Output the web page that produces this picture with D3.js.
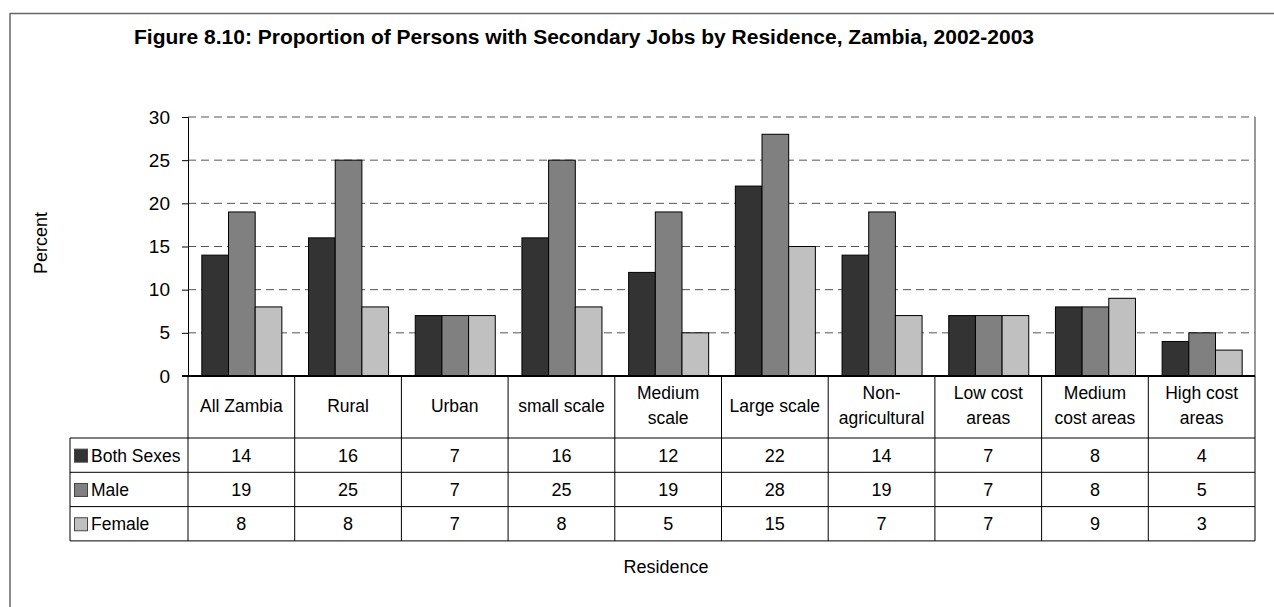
<!DOCTYPE html>
<html>
<head>
<meta charset="utf-8">
<title>Figure 8.10</title>
<style>
body { margin: 0; background: #fff; }
text { font-family: "Liberation Sans", Arial, sans-serif; fill: #000; }
.grid line { stroke: #555; stroke-dasharray: 8,5; }
.tbl line { stroke: #000; stroke-width: 1; }
</style>
</head>
<body>
<script src="https://cdn.jsdelivr.net/npm/d3@7"></script>
<script>
// data
var categories = ["All Zambia", "Rural", "Urban", "small scale", "Medium|scale",
                  "Large scale", "Non-|agricultural", "Low cost|areas",
                  "Medium|cost areas", "High cost|areas"];
var seriesNames = ["Both Sexes", "Male", "Female"];
var bothSexes = [14, 16, 7, 16, 12, 22, 14, 7, 8, 4];
var male      = [19, 25, 7, 25, 19, 28, 19, 7, 8, 5];
var female    = [8, 8, 7, 8, 5, 15, 7, 7, 9, 3];
var yTicks = [0, 5, 10, 15, 20, 25, 30];

var colors = ["#333333", "#808080", "#c0c0c0"];
var series = [bothSexes, male, female];

var width = 1274, height = 607;
var plotLeft = 188, plotRight = 1255, plotTop = 117, plotBottom = 376;
var legendLeft = 70, headerH = 62, rowH = 34.3;

var svg = d3.select("body").append("svg")
    .attr("width", width)
    .attr("height", height);

// outer frame (only top and left show)
svg.append("line").attr("x1", 10).attr("x2", width).attr("y1", 13.5).attr("y2", 13.5)
    .attr("stroke", "#666").attr("stroke-width", 1.5);
svg.append("line").attr("x1", 10).attr("x2", 10).attr("y1", 13).attr("y2", height)
    .attr("stroke", "#666").attr("stroke-width", 1.5);

svg.append("text")
    .attr("x", 584).attr("y", 44)
    .attr("text-anchor", "middle")
    .attr("textLength", 900).attr("lengthAdjust", "spacingAndGlyphs")
    .style("font-weight", "bold").style("font-size", "21px")
    .text("Figure 8.10: Proportion of Persons with Secondary Jobs by Residence, Zambia, 2002-2003");

var x = d3.scaleBand().domain(d3.range(categories.length))
    .range([plotLeft, plotRight]).paddingInner(0.25).paddingOuter(0.125);
var xCol = d3.scaleBand().domain(d3.range(categories.length)).range([plotLeft, plotRight]);
var xs = d3.scaleBand().domain(d3.range(series.length)).range([0, x.bandwidth()]);
var y = d3.scaleLinear().domain([0, 30]).range([plotBottom, plotTop]);

// gridlines
svg.append("g").attr("class", "grid")
  .selectAll("line").data(yTicks.filter(function(t) { return t > 0; }))
  .enter().append("line")
    .attr("x1", plotLeft).attr("x2", plotRight)
    .attr("y1", function(d) { return y(d); }).attr("y2", function(d) { return y(d); });

// right side of the plot area
svg.append("line").attr("x1", plotRight).attr("x2", plotRight).attr("y1", plotTop).attr("y2", plotBottom)
    .attr("stroke", "#777").attr("stroke-width", 1.5);

// y axis
var yAxis = svg.append("g")
    .attr("transform", "translate(" + plotLeft + ",0)")
    .call(d3.axisLeft(y).tickValues(yTicks).tickSize(6).tickPadding(12));
yAxis.select(".domain").attr("stroke", "#000");
yAxis.selectAll(".tick line").attr("stroke", "#000");
yAxis.selectAll("text").style("font-size", "19px").attr("fill", "#000")
    .style("font-family", "'Liberation Sans', Arial, sans-serif");

svg.append("text")
    .attr("transform", "translate(47,243) rotate(-90)")
    .attr("text-anchor", "middle")
    .style("font-size", "18px")
    .text("Percent");

// bars
var groups = svg.append("g").selectAll("g").data(categories)
  .enter().append("g")
    .attr("transform", function(d, i) { return "translate(" + x(i) + ",0)"; });
groups.selectAll("rect")
  .data(function(d, i) { return series.map(function(s, k) { return {k: k, v: s[i]}; }); })
  .enter().append("rect")
    .attr("x", function(d) { return xs(d.k) + 0.5; })
    .attr("width", xs.bandwidth())
    .attr("y", function(d) { return y(d.v); })
    .attr("height", function(d) { return plotBottom - y(d.v); })
    .attr("fill", function(d) { return colors[d.k]; })
    .attr("stroke", "#000").attr("stroke-width", 1);

// zero line
svg.append("line").attr("x1", plotLeft - 6).attr("x2", plotRight).attr("y1", plotBottom).attr("y2", plotBottom)
    .attr("stroke", "#000").attr("stroke-width", 2);

// data table
var tbl = svg.append("g").attr("class", "tbl");
var rowTop = plotBottom + headerH;
var tblBottom = rowTop + rowH * series.length;

d3.range(categories.length + 1).forEach(function(i) {
  var xx = i < categories.length ? xCol(i) : plotRight;
  tbl.append("line").attr("x1", xx).attr("x2", xx).attr("y1", plotBottom).attr("y2", tblBottom);
});
tbl.append("line").attr("x1", legendLeft).attr("x2", legendLeft).attr("y1", rowTop).attr("y2", tblBottom);
d3.range(series.length + 1).forEach(function(r) {
  var yy = rowTop + r * rowH;
  tbl.append("line").attr("x1", legendLeft).attr("x2", plotRight).attr("y1", yy).attr("y2", yy);
});

// header labels
categories.forEach(function(c, i) {
  var lines = c.split("|");
  var cx = xCol(i) + xCol.bandwidth() / 2;
  var y0 = lines.length === 1 ? 412 : 399;
  lines.forEach(function(l, j) {
    tbl.append("text").attr("x", cx).attr("y", y0 + j * 25)
      .attr("text-anchor", "middle").style("font-size", "17.5px").text(l);
  });
});

// rows
series.forEach(function(s, k) {
  var cy = rowTop + k * rowH + rowH / 2;
  tbl.append("rect").attr("x", 74.5).attr("y", cy - 6).attr("width", 13).attr("height", 13)
    .attr("fill", colors[k]).attr("stroke", "#444");
  tbl.append("text").attr("x", 91).attr("y", cy + 6.5)
    .style("font-size", "17.5px").text(seriesNames[k]);
  s.forEach(function(v, i) {
    tbl.append("text").attr("x", xCol(i) + xCol.bandwidth() / 2).attr("y", cy + 6.5)
      .attr("text-anchor", "middle").style("font-size", "18px").text(v);
  });
});

svg.append("text")
    .attr("x", 666).attr("y", 573)
    .attr("text-anchor", "middle")
    .style("font-size", "18px")
    .text("Residence");
</script>
</body>
</html>
